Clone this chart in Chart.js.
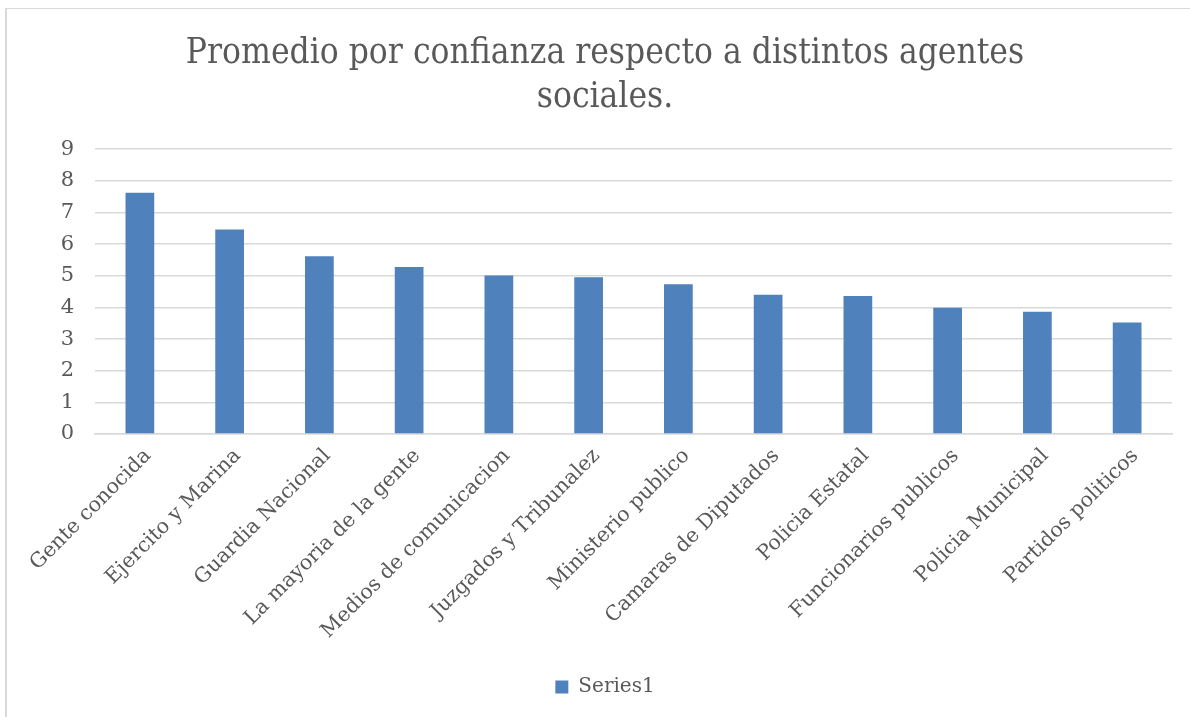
<!DOCTYPE html>
<html>
<head>
<meta charset="utf-8">
<script src="https://cdn.jsdelivr.net/npm/chart.js@4.4.1/dist/chart.umd.min.js"></script>
<style>
    body { margin: 0; background: #ffffff; }
    #marco {
        position: absolute; left: 5px; top: 8px; width: 1200px; height: 720px;
        border-left: 2px solid #d9d9d9; border-top: 1px solid #d9d9d9;
    }
    #grafica { position: absolute; left: 0; top: 0; }
</style>
</head>
<body>
<div id="marco"></div>
<canvas id="grafica" width="1190" height="717"></canvas>
<script>
// datos de la grafica
const agentes = ['Gente conocida', 'Ejercito y Marina', 'Guardia Nacional', 'La mayoria de la gente',
    'Medios de comunicacion', 'Juzgados y Tribunalez', 'Ministerio publico', 'Camaras de Diputados',
    'Policia Estatal', 'Funcionarios publicos', 'Policia Municipal', 'Partidos politicos']
const promedios = [7.62, 6.46, 5.62, 5.28, 5.01, 4.95, 4.73, 4.40, 4.36, 3.99, 3.86, 3.52]
const titulo = ['Promedio por confianza respecto a distintos agentes', 'sociales.']
const serie = 'Series1'

const gris = '#595959'
const lineas = '#d9d9d9'
const letra = 'DejaVu Serif'

let ctx = document.getElementById('grafica')
new Chart(ctx, {
    type: 'bar',
    data: {
        labels: agentes,
        datasets: [{
            label: serie,
            data: promedios,
            backgroundColor: '#4f81bd',
            borderWidth: 0,
            categoryPercentage: 1,
            barPercentage: 0.32
        }]
    },
    options: {
        responsive: false,
        animation: false,
        layout: {
            padding: { left: 38, right: 18, top: 10, bottom: 10 }
        },
        plugins: {
            title: {
                display: true,
                text: titulo,
                color: gris,
                font: { family: 'DejaVu Serif Condensed', size: 35, weight: 'normal', lineHeight: 1.26 },
                padding: { top: 22, bottom: 29 }
            },
            legend: {
                position: 'bottom',
                labels: {
                    color: gris,
                    font: { family: letra, size: 20 },
                    boxWidth: 13,
                    boxHeight: 13,
                    padding: 10
                }
            },
            tooltip: { enabled: false }
        },
        scales: {
            x: {
                grid: { display: false },
                border: { display: true, color: lineas, width: 1.5 },
                ticks: {
                    color: gris,
                    font: { family: letra, size: 20.5 },
                    minRotation: 45,
                    maxRotation: 45,
                    autoSkip: false,
                    padding: 2,
                    labelOffset: 8
                },
                afterFit: (scale) => { scale.height = 233 }
            },
            y: {
                min: 0,
                max: 9,
                ticks: {
                    stepSize: 1,
                    color: gris,
                    font: { family: letra, size: 21 },
                    padding: 21
                },
                grid: { color: lineas, lineWidth: 1.5, drawTicks: false },
                border: { display: false },
                afterFit: (scale) => { scale.width = 57 }
            }
        }
    }
})
</script>
</body>
</html>
